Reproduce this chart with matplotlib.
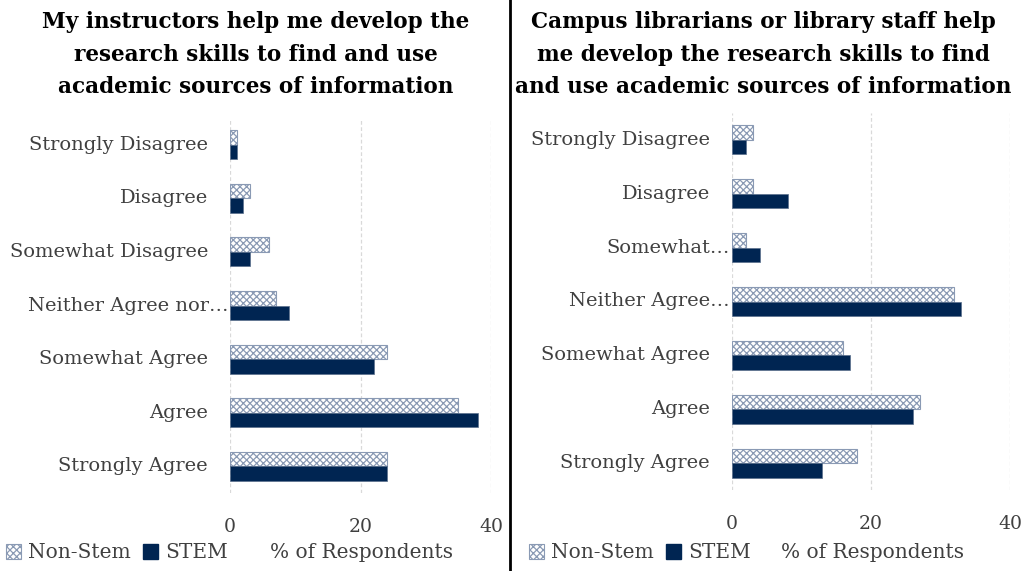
import matplotlib
matplotlib.use("Agg")
import matplotlib.pyplot as plt
from matplotlib.patches import Patch
from matplotlib.lines import Line2D
import matplotlib.transforms as mtransforms
import numpy as np

plt.rcParams['font.family'] = ['DejaVu Serif']
plt.rcParams['hatch.linewidth'] = 0.9

left_cats = ["Strongly Disagree", "Disagree", "Somewhat Disagree", "Neither Agree nor…",
             "Somewhat Agree", "Agree", "Strongly Agree"]
right_cats = ["Strongly Disagree", "Disagree", "Somewhat…", "Neither Agree…",
              "Somewhat Agree", "Agree", "Strongly Agree"]
left_nonstem = [1, 3, 6, 7, 24, 35, 24]
left_stem = [1, 2, 3, 9, 22, 38, 24]
right_nonstem = [3, 3, 2, 32, 16, 27, 18]
right_stem = [2, 8, 4, 33, 17, 26, 13]
xticks = [0, 20, 40]

left_title = "My instructors help me develop the\nresearch skills to find and use\nacademic sources of information"
right_title = "Campus librarians or library staff help\nme develop the research skills to find\nand use academic sources of information"

NAVY = "#002552"
HATCH_EC = "#8a9ab4"
GRID = "#d9d9d9"
TXT = "#404040"

W, H = 1021, 571
fig = plt.figure(figsize=(W / 100, H / 100), dpi=100)


def panel(rect, cats, nonstem, stem, title, title_x):
    ax = fig.add_axes(rect)
    y = np.arange(len(cats))
    h = 0.27
    ax.barh(y - h / 2, nonstem, height=h, facecolor="white", edgecolor=HATCH_EC,
            hatch="xxxxx", linewidth=0.8, zorder=3)
    ax.barh(y + h / 2, stem, height=h, color=NAVY, edgecolor="#5a6f8c",
            linewidth=0.5, zorder=3)
    ax.set_ylim(len(cats) - 0.5, -0.5)
    ax.set_xlim(0, 40)
    ax.set_xticks(xticks)
    ax.set_xticklabels([str(t) for t in xticks], fontsize=13.5, color=TXT)
    ax.set_yticks(y)
    ax.set_yticklabels([])
    ax.tick_params(length=0)
    ax.tick_params(axis='x', pad=18)
    trans = mtransforms.blended_transform_factory(ax.transAxes, ax.transData)
    for yi, c in zip(y, cats):
        dx = -2 if c.endswith("…") else -22
        off = mtransforms.offset_copy(trans, fig=fig, x=dx, y=0, units="dots")
        ax.text(0, yi, c, transform=off, ha="right", va="center", fontsize=14, color=TXT)
    for s in ax.spines.values():
        s.set_visible(False)
    for t in xticks:
        ax.axvline(t, color=GRID, linestyle=(0, (3, 2)), linewidth=0.9, zorder=0)
    fig.text(title_x, 1 - 11 / H, title, ha="center", va="top", fontsize=15.5,
             fontweight="bold", color="black", linespacing=1.62)
    return ax


axL = panel([230 / W, 1 - 493 / H, 261 / W, 375 / H], left_cats, left_nonstem, left_stem,
            left_title, 256 / W)
axR = panel([732 / W, 1 - 490 / H, 278 / W, 377 / H], right_cats, right_nonstem, right_stem,
            right_title, 763 / W)

handles = [Patch(facecolor="white", edgecolor=HATCH_EC, hatch="xxxxx", linewidth=0.8),
           Patch(facecolor=NAVY, edgecolor=NAVY)]
labels = ["Non-Stem", "STEM"]
for x0, yy, xl in [(6 / W, 553, 270), (529 / W, 553, 781)]:
    fig.legend(handles, labels, loc="center left", bbox_to_anchor=(x0, 1 - yy / H),
               ncol=2, frameon=False, fontsize=14.5, handlelength=0.75, handleheight=0.75,
               handletextpad=0.35, columnspacing=0.6, labelcolor=TXT, borderaxespad=0,
               borderpad=0)
    fig.text(xl / W, 1 - yy / H, "% of Respondents", ha="left", va="center",
             fontsize=14.5, color=TXT)

fig.add_artist(Line2D([510 / W, 510 / W], [0, 1], color="black", linewidth=2))

fig.savefig("out.png", dpi=100)
